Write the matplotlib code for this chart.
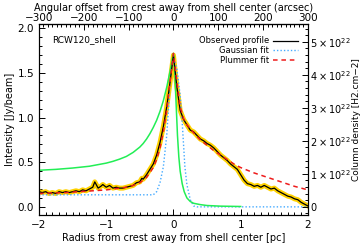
import matplotlib
matplotlib.use('Agg')
import matplotlib.pyplot as plt
from matplotlib.ticker import MultipleLocator, FixedLocator

plt.rcParams['font.family'] = ['DejaVu Sans']

# observed profile (pc, Jy/beam)
obs_r = [-2.00, -1.95, -1.90, -1.85, -1.80, -1.75, -1.70, -1.65, -1.60, -1.55,
         -1.50, -1.45, -1.40, -1.35, -1.30, -1.25, -1.20, -1.17, -1.12, -1.08,
         -1.05, -1.00, -0.95, -0.90, -0.85, -0.80, -0.75, -0.70, -0.65, -0.60,
         -0.55, -0.50, -0.47, -0.45, -0.40, -0.35, -0.30, -0.25, -0.20, -0.15,
         -0.10, -0.05, 0.00, 0.05, 0.10, 0.15, 0.20, 0.25, 0.30, 0.35,
         0.40, 0.45, 0.50, 0.55, 0.60, 0.65, 0.70, 0.75, 0.80, 0.85,
         0.90, 0.95, 1.00, 1.05, 1.10, 1.15, 1.20, 1.25, 1.30, 1.35,
         1.40, 1.45, 1.50, 1.55, 1.60, 1.65, 1.70, 1.75, 1.80, 1.85,
         1.90, 1.95, 2.00]
obs_i = [0.17, 0.16, 0.17, 0.15, 0.16, 0.15, 0.17, 0.16, 0.17, 0.16,
         0.17, 0.18, 0.17, 0.19, 0.18, 0.20, 0.22, 0.28, 0.21, 0.23,
         0.25, 0.22, 0.24, 0.21, 0.22, 0.21, 0.21, 0.22, 0.23, 0.24,
         0.27, 0.28, 0.32, 0.31, 0.36, 0.42, 0.48, 0.58, 0.72, 0.90,
         1.12, 1.40, 1.70, 1.35, 1.08, 0.98, 0.92, 0.86, 0.84, 0.80,
         0.76, 0.74, 0.71, 0.69, 0.66, 0.62, 0.58, 0.55, 0.52, 0.48,
         0.45, 0.42, 0.36, 0.30, 0.26, 0.25, 0.23, 0.24, 0.22, 0.24,
         0.22, 0.20, 0.21, 0.18, 0.16, 0.14, 0.12, 0.11, 0.09, 0.08,
         0.05, 0.03, 0.01]

# Gaussian fit
gau_r = [-2.0, -0.30, -0.25, -0.20, -0.15, -0.10, -0.07, -0.04, 0.00,
         0.05, 0.10, 0.13, 0.15, 0.17, 0.20, 0.25, 0.30, 0.35, 2.0]
gau_i = [0.135, 0.135, 0.17, 0.27, 0.45, 0.80, 1.15, 1.50, 1.70,
         1.55, 1.25, 0.95, 0.70, 0.45, 0.25, 0.08, 0.01, 0.0, 0.0]

# Plummer fit
plu_r = [-2.0, -1.8, -1.6, -1.4, -1.2, -1.0, -0.9, -0.8, -0.7, -0.6,
         -0.5, -0.4, -0.3, -0.25, -0.2, -0.15, -0.1, -0.05, 0.0,
         0.05, 0.1, 0.15, 0.2, 0.3, 0.4, 0.5, 0.6, 0.7, 0.8,
         0.9, 1.0, 1.2, 1.4, 1.6, 1.8, 2.0]
plu_i = [0.15, 0.155, 0.16, 0.17, 0.18, 0.19, 0.20, 0.21, 0.22, 0.24,
         0.27, 0.33, 0.44, 0.53, 0.66, 0.84, 1.08, 1.40, 1.72,
         1.40, 1.12, 0.99, 0.92, 0.83, 0.75, 0.69, 0.63, 0.58, 0.53,
         0.48, 0.44, 0.38, 0.33, 0.28, 0.23, 0.19]

# green model curve
grn_r = [-2.0, -1.75, -1.5, -1.25, -1.0, -0.9, -0.8, -0.7, -0.6, -0.5,
         -0.45, -0.4, -0.35, -0.3, -0.25, -0.2, -0.15, -0.1, -0.05, 0.0,
         0.02, 0.04, 0.06, 0.08, 0.10, 0.13, 0.16, 0.20, 0.25, 0.30,
         0.40, 0.50, 0.70, 1.0]
grn_i = [0.41, 0.42, 0.435, 0.455, 0.49, 0.51, 0.535, 0.565, 0.61, 0.67,
         0.71, 0.76, 0.82, 0.89, 0.97, 1.07, 1.19, 1.34, 1.52, 1.72,
         1.50, 1.15, 0.80, 0.56, 0.40, 0.26, 0.17, 0.10, 0.06, 0.04,
         0.025, 0.015, 0.008, 0.004]

coldens_ticks = [0, 1, 2, 3, 4, 5]
coldens_per_unit = 1 / 0.37  # 1e22 cm-2 per Jy/beam

fig = plt.figure(figsize=(3.64, 2.49), dpi=100)
ax = fig.add_axes([0.107, 0.137, 0.739, 0.767])

ax.plot(obs_r, obs_i, color='#ffd200', lw=3.6, solid_joinstyle='round', zorder=2)
ax.plot(obs_r, obs_i, color='black', lw=0.9, zorder=4, label='Observed profile')
ax.plot(gau_r, gau_i, color='#44aaff', lw=1.0, ls=(0, (1, 1.5)), zorder=3, label='Gaussian fit')
ax.plot(plu_r, plu_i, color='#ee1c1c', lw=1.1, ls=(0, (3, 2.5)), zorder=5, label='Plummer fit')
ax.plot(grn_r, grn_i, color='#22ee55', lw=1.1, zorder=3)

ax.set_xlim(-2, 2)
ax.set_ylim(-0.09, 2.05)
ax.xaxis.set_major_locator(MultipleLocator(1))
ax.xaxis.set_minor_locator(MultipleLocator(0.1))
ax.yaxis.set_major_locator(MultipleLocator(0.5))
ax.yaxis.set_minor_locator(MultipleLocator(0.1))
ax.yaxis.set_major_formatter(plt.FuncFormatter(lambda v, p: f'{v:.1f}'))
ax.xaxis.set_major_formatter(plt.FuncFormatter(lambda v, p: f'{v:.0f}'.replace('-', '\u2212')))
ax.tick_params(which='both', direction='in', labelsize=7.5, width=0.7)
ax.tick_params(which='major', length=4)
ax.tick_params(which='minor', length=2)
ax.tick_params(axis='x', pad=4)
ax.set_xlabel('Radius from crest away from shell center [pc]', fontsize=7, labelpad=2)
ax.set_ylabel('Intensity [Jy/beam]', fontsize=7, labelpad=2)
for s in ax.spines.values():
    s.set_linewidth(0.8)

top = ax.secondary_xaxis('top', functions=(lambda r: r * 150, lambda a: a / 150))
top.xaxis.set_major_locator(MultipleLocator(100))
top.xaxis.set_minor_locator(MultipleLocator(10))
top.xaxis.set_major_formatter(plt.FuncFormatter(lambda v, p: f'{v:.0f}'.replace('-', '\u2212')))
top.tick_params(which='both', direction='in', labelsize=7.5, width=0.7, pad=1)
top.tick_params(which='major', length=4)
top.tick_params(which='minor', length=2)
top.set_xlabel('Angular offset from crest away from shell center (arcsec)', fontsize=7, labelpad=1)

rax = ax.twinx()
lo, hi = ax.get_ylim()
rax.set_ylim(lo * coldens_per_unit, hi * coldens_per_unit)
rax.yaxis.set_major_locator(FixedLocator(coldens_ticks))
rax.yaxis.set_minor_locator(MultipleLocator(0.2))
rax.yaxis.set_major_formatter(plt.FuncFormatter(
    lambda v, p: '0' if v == 0 else r'$%d\times10^{22}$' % v))
rax.tick_params(which='both', direction='in', labelsize=7, width=0.7, pad=1.5)
rax.tick_params(which='major', length=4)
rax.tick_params(which='minor', length=2)
rax.set_ylabel('Column density [H2.cm\u22122]', fontsize=6.5, labelpad=1)

ax.text(0.05, 0.92, 'RCW120_shell', transform=ax.transAxes, fontsize=6.5, va='center')
ax.legend(loc='upper right', bbox_to_anchor=(0.985, 0.965), frameon=False, markerfirst=False,
          fontsize=6, handlelength=3.0, handletextpad=0.5, labelspacing=0.1, borderpad=0.2)

fig.savefig('out.png', dpi=100, facecolor='white')
